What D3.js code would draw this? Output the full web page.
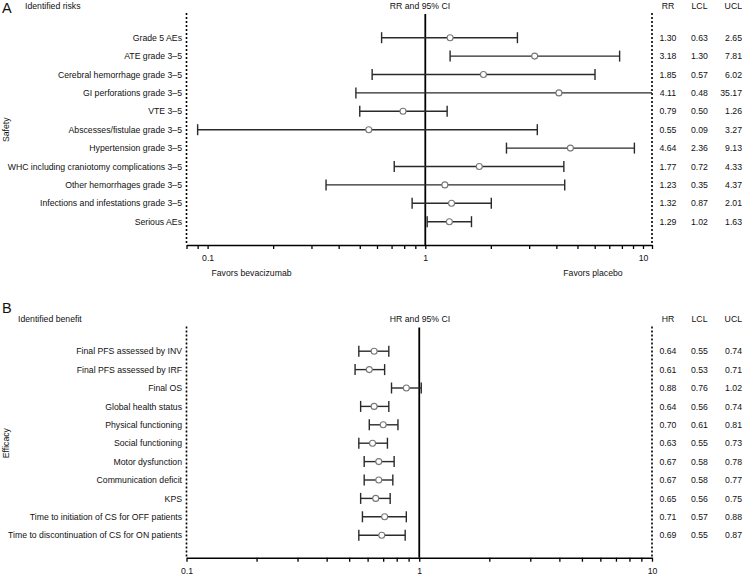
<!DOCTYPE html>
<html>
<head>
<meta charset="utf-8">
<script src="https://cdn.jsdelivr.net/npm/d3@7"></script>
<style>
  body { margin: 0; background: #fff; }
  text { font-family: "Liberation Sans", Arial, Helvetica, sans-serif; fill: #111; }
</style>
</head>
<body>
<svg id="chart" width="745" height="579"></svg>
<script>
// ---- Data ----
const riskLabels = ["Grade 5 AEs", "ATE grade 3–5", "Cerebral hemorrhage grade 3–5", "GI perforations grade 3–5",
  "VTE 3–5", "Abscesses/fistulae grade 3–5", "Hypertension grade 3–5", "WHC including craniotomy complications 3–5",
  "Other hemorrhages grade 3–5", "Infections and infestations grade 3–5", "Serious AEs"];
const riskRR  = [1.30, 3.18, 1.85, 4.11, 0.79, 0.55, 4.64, 1.77, 1.23, 1.32, 1.29];
const riskLCL = [0.63, 1.30, 0.57, 0.48, 0.50, 0.09, 2.36, 0.72, 0.35, 0.87, 1.02];
const riskUCL = [2.65, 7.81, 6.02, 35.17, 1.26, 3.27, 9.13, 4.33, 4.37, 2.01, 1.63];

const benefitLabels = ["Final PFS assessed by INV", "Final PFS assessed by IRF", "Final OS", "Global health status",
  "Physical functioning", "Social functioning", "Motor dysfunction", "Communication deficit", "KPS",
  "Time to initiation of CS for OFF patients", "Time to discontinuation of CS for ON patients"];
const benefitHR  = [0.64, 0.61, 0.88, 0.64, 0.70, 0.63, 0.67, 0.67, 0.65, 0.71, 0.69];
const benefitLCL = [0.55, 0.53, 0.76, 0.56, 0.61, 0.55, 0.58, 0.58, 0.56, 0.57, 0.55];
const benefitUCL = [0.74, 0.71, 1.02, 0.74, 0.81, 0.73, 0.78, 0.77, 0.75, 0.88, 0.87];

const riskDomain = [0.08, 11];
const riskTicks = [0.08, 0.09, 0.1, 0.2, 0.3, 0.4, 0.5, 0.6, 0.7, 0.8, 0.9, 1, 2, 3, 4, 5, 6, 7, 8, 9, 10, 11];
const benefitDomain = [0.1, 10];
const benefitTicks = [0.1, 0.2, 0.3, 0.4, 0.5, 0.6, 0.7, 0.8, 0.9, 1, 2, 3, 4, 5, 6, 7, 8, 9, 10];
const tickLabels = [0.1, 1, 10];

const fmt = d3.format(".2f");
const svg = d3.select("#chart");
const FS = 8.7;

function panel(cfg) {
  const g = svg.append("g");
  const n = cfg.labels.length;
  const x = d3.scaleLog().domain(cfg.domain).range([186.5, 652]);
  const y = d3.scalePoint().domain(d3.range(n)).range([cfg.top + 24.7, cfg.top + 24.7 + 18.4 * (n - 1)]);
  const axisY = y(n - 1) + cfg.axisGap;

  // letter + headers
  g.append("text").attr("x", 2).attr("y", cfg.letterY).attr("font-size", 14.5).text(cfg.letter);
  g.append("text").attr("x", cfg.titleX).attr("y", cfg.top - 4.5).attr("font-size", FS).text(cfg.title);
  g.append("text").attr("x", 420).attr("y", cfg.top - 4.5).attr("font-size", FS).attr("text-anchor", "middle").text(cfg.ciTitle);
  g.append("text").attr("x", 668).attr("y", cfg.top - 4.5).attr("font-size", FS).attr("text-anchor", "middle").text(cfg.est);
  g.append("text").attr("x", 699.5).attr("y", cfg.top - 4.5).attr("font-size", FS).attr("text-anchor", "middle").text("LCL");
  g.append("text").attr("x", 742).attr("y", cfg.top - 4.5).attr("font-size", FS).attr("text-anchor", "end").text("UCL");

  // vertical side label
  const mid = (y(0) + y(n - 1)) / 2;
  g.append("text").attr("transform", `translate(9,${mid}) rotate(-90)`).attr("font-size", FS)
    .attr("text-anchor", "middle").text(cfg.side);

  // dashed borders
  [x.range()[0], x.range()[1]].forEach(px => {
    g.append("line").attr("x1", px).attr("x2", px).attr("y1", cfg.top).attr("y2", axisY)
      .attr("stroke", "#000").attr("stroke-width", 1.6).attr("stroke-dasharray", "2,2");
  });

  // reference line at 1
  g.append("line").attr("x1", x(1)).attr("x2", x(1)).attr("y1", cfg.top + 1).attr("y2", axisY)
    .attr("stroke", "#000").attr("stroke-width", 1.8);

  // axis
  const axis = d3.axisBottom(x).tickValues(cfg.ticks).tickSize(4).tickSizeOuter(0)
    .tickFormat(d => tickLabels.includes(d) ? String(d) : "");
  const ax = g.append("g").attr("transform", `translate(0,${axisY})`).call(axis);
  ax.select(".domain").attr("stroke", "#000").attr("stroke-width", 1.6);
  ax.selectAll(".tick line").attr("stroke", "#000").attr("stroke-width", 1.3);
  ax.selectAll(".tick text").attr("font-size", FS).attr("font-family", "Liberation Sans, Arial, sans-serif")
    .attr("fill", "#111").attr("y", 10);

  if (cfg.favors) {
    g.append("text").attr("x", 251.5).attr("y", axisY + 31).attr("font-size", FS).attr("text-anchor", "middle").text(cfg.favors[0]);
    g.append("text").attr("x", 593).attr("y", axisY + 31).attr("font-size", FS).attr("text-anchor", "middle").text(cfg.favors[1]);
  }

  const rows = g.selectAll("g.row").data(d3.range(n)).join("g").attr("class", "row");
  rows.append("text").attr("x", 182).attr("y", i => y(i) + 3.1).attr("font-size", FS)
    .attr("text-anchor", "end").text(i => cfg.labels[i]);

  const xmax = x.domain()[1], xmin = x.domain()[0];
  rows.append("line")
    .attr("x1", i => x(Math.max(cfg.lcl[i], xmin))).attr("x2", i => x(Math.min(cfg.ucl[i], xmax)))
    .attr("y1", i => y(i)).attr("y2", i => y(i))
    .attr("stroke", "#2a2a2a").attr("stroke-width", 1.4);
  rows.filter(i => cfg.lcl[i] >= xmin).append("line")
    .attr("x1", i => x(cfg.lcl[i])).attr("x2", i => x(cfg.lcl[i]))
    .attr("y1", i => y(i) - 5.5).attr("y2", i => y(i) + 5.5)
    .attr("stroke", "#2a2a2a").attr("stroke-width", 1.4);
  rows.filter(i => cfg.ucl[i] <= xmax).append("line")
    .attr("x1", i => x(cfg.ucl[i])).attr("x2", i => x(cfg.ucl[i]))
    .attr("y1", i => y(i) - 5.5).attr("y2", i => y(i) + 5.5)
    .attr("stroke", "#2a2a2a").attr("stroke-width", 1.4);
  rows.append("circle").attr("cx", i => x(cfg.est_v[i])).attr("cy", i => y(i)).attr("r", 3)
    .attr("fill", "#fff").attr("stroke", "#777").attr("stroke-width", 1.1);

  rows.append("text").attr("x", 668).attr("y", i => y(i) + 3.1).attr("font-size", FS)
    .attr("text-anchor", "middle").text(i => fmt(cfg.est_v[i]));
  rows.append("text").attr("x", 699.5).attr("y", i => y(i) + 3.1).attr("font-size", FS)
    .attr("text-anchor", "middle").text(i => fmt(cfg.lcl[i]));
  rows.append("text").attr("x", 742).attr("y", i => y(i) + 3.1).attr("font-size", FS)
    .attr("text-anchor", "end").text(i => fmt(cfg.ucl[i]));
}

panel({
  top: 13, letterY: 12.5, letter: "A", title: "Identified risks", titleX: 25, ciTitle: "RR and 95% CI", est: "RR",
  side: "Safety", labels: riskLabels, est_v: riskRR, lcl: riskLCL, ucl: riskUCL,
  domain: riskDomain, ticks: riskTicks, axisGap: 23.3,
  favors: ["Favors bevacizumab", "Favors placebo"]
});
panel({
  top: 326.5, letterY: 313, letter: "B", title: "Identified benefit", titleX: 18, ciTitle: "HR and 95% CI", est: "HR",
  side: "Efficacy", labels: benefitLabels, est_v: benefitHR, lcl: benefitLCL, ucl: benefitUCL,
  domain: benefitDomain, ticks: benefitTicks, axisGap: 22.5, favors: null
});
</script>
</body>
</html>
